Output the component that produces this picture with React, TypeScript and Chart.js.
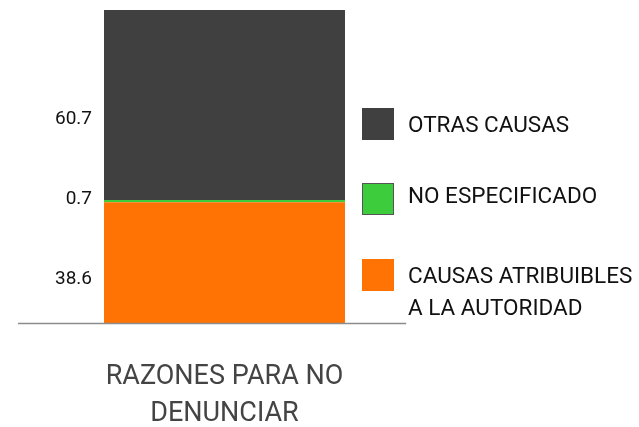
import React, { useEffect, useRef } from 'react';
import { Chart, registerables } from 'chart.js';

Chart.register(...registerables);

// ---- data ----
const categories = [['RAZONES PARA NO', 'DENUNCIAR']];
const causasAtribuibles = [38.6];
const noEspecificado = [0.7];
const otrasCausas = [60.7];
const seriesNames = ['CAUSAS ATRIBUIBLES A LA AUTORIDAD', 'NO ESPECIFICADO', 'OTRAS CAUSAS'];
const legendLines = [['CAUSAS ATRIBUIBLES', 'A LA AUTORIDAD'], ['NO ESPECIFICADO'], ['OTRAS CAUSAS']];

// ---- style ----
const FONT = 'Roboto';
const COLORS = ['#ff7304', '#3ccc3c', '#404040'];
// label y as fraction of chart area (dataset order)
const LABEL_FRAC = [0.856, 0.6, 0.345];
const LEGEND_BOX_TOP = [259, 183, 108];

const valueLabelPlugin = {
  id: 'valueLabels',
  afterDatasetsDraw(chart: any) {
    const { ctx, chartArea } = chart;
    ctx.save();
    ctx.font = `19px ${FONT}`;
    ctx.fillStyle = '#111';
    ctx.textAlign = 'right';
    ctx.textBaseline = 'middle';
    chart.data.datasets.forEach((ds: any, i: number) => {
      const y = chartArea.top + LABEL_FRAC[i] * (chartArea.bottom - chartArea.top);
      ctx.fillText(Number(ds.data[0]).toFixed(1), 92, y + 1);
    });
    // axis line
    ctx.strokeStyle = '#8c8c8c';
    ctx.lineWidth = 1.5;
    ctx.beginPath();
    ctx.moveTo(chartArea.left, chartArea.bottom + 0.5);
    ctx.lineTo(chartArea.left + 0.94 * (chartArea.right - chartArea.left), chartArea.bottom + 0.5);
    ctx.stroke();
    ctx.restore();
  },
};

const legendPlugin = {
  id: 'customLegend',
  afterDraw(chart: any) {
    const { ctx } = chart;
    ctx.save();
    chart.data.datasets.forEach((ds: any, i: number) => {
      const top = LEGEND_BOX_TOP[i];
      ctx.fillStyle = ds.backgroundColor;
      ctx.fillRect(362, top, 32, 32);
      if (i === 1) {
        ctx.strokeStyle = '#555';
        ctx.lineWidth = 1;
        ctx.strokeRect(362.5, top + 0.5, 31, 31);
      }
      ctx.fillStyle = '#111';
      ctx.font = `22.5px ${FONT}`;
      ctx.textAlign = 'left';
      ctx.textBaseline = 'middle';
      const lines = legendLines[i];
      lines.forEach((ln, k) => {
        ctx.fillText(ln, 408, top + 16 + (i === 1 ? -2 : 2) + k * 32);
      });
    });
    ctx.restore();
  },
};

export default function App() {
  const ref = useRef<HTMLCanvasElement>(null);
  useEffect(() => {
    if (!ref.current) return;
    const data = [causasAtribuibles, noEspecificado, otrasCausas];
    const chart = new Chart(ref.current, {
      type: 'bar',
      data: {
        labels: categories as any,
        datasets: data.map((d, i) => ({
          label: seriesNames[i],
          data: d,
          backgroundColor: COLORS[i],
          borderWidth: 0,
          barPercentage: 0.5835,
          categoryPercentage: 1,
        })),
      },
      options: {
        animation: false,
        responsive: true,
        maintainAspectRatio: false,
        layout: { padding: { left: 18, right: 208, top: 10, bottom: 0 } },
        plugins: { legend: { display: false }, tooltip: { enabled: false } },
        scales: {
          x: {
            stacked: true,
            grid: { display: false, drawTicks: false },
            border: { display: false },
            ticks: {
              padding: 35.5,
              color: '#444',
              font: { family: FONT, size: 27, lineHeight: 37 / 27 },
            },
          },
          y: { stacked: true, display: false, min: 0, max: 100 },
        },
      },
      plugins: [valueLabelPlugin, legendPlugin],
    });
    return () => chart.destroy();
  }, []);
  return (
    <div style={{ position: 'fixed', left: 0, top: 0, width: 639, height: 468, background: '#fff' }}>
      <canvas ref={ref} />
    </div>
  );
}
